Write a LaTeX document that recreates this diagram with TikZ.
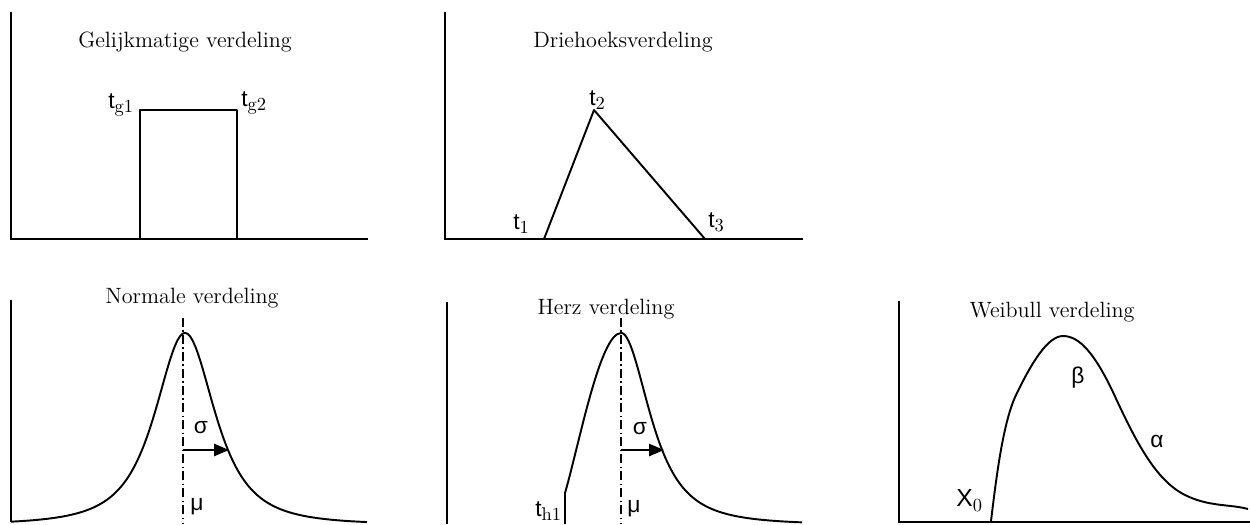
\documentclass[tikz,border=0pt]{standalone}
\usepackage{fontspec}
\newfontfamily\symfont{Liberation Sans}
\usetikzlibrary{arrows.meta}
\newcommand{\lowsub}[1]{\raisebox{-0.4ex}{\rmfamily\fontsize{10.5}{12}\selectfont #1}}

\begin{document}
\begin{tikzpicture}[
  x=0.02cm,y=-0.02cm,
  axis/.style={line width=1.3pt},
  curve/.style={line width=1.1pt, line join=round},
  centre/.style={line width=0.9pt, dash pattern=on 5pt off 2pt on 0.7pt off 2pt},
  title/.style={font=\fontsize{12.6}{14}\selectfont},
  lbl/.style={font=\symfont\fontsize{13}{15}\selectfont, inner sep=0pt},
  tlbl/.style={lbl, anchor=base west},
  arrow/.style={-{Triangle[length=8.5pt,width=7pt]}, line width=1pt}
]
\useasboundingbox (0,0) rectangle (1250,524);

% gelijkmatige verdeling
\draw[axis] (11,12) -- (11,239) -- (368,239);
\node[title] (ttlg) at (185,42) {Gelijkmatige verdeling};
\draw[curve] (140,239) -- (140,110) -- (237,110) -- (237,239);
\node[tlbl] (tg1) at (108,108) {t\lowsub{g1}};
\node[tlbl] (tg2) at (241,106) {t\lowsub{g2}};

% driehoeksverdeling
\draw[axis] (445,12) -- (445,239) -- (803,239);
\node[title] (ttld) at (623,42) {Driehoeksverdeling};
\draw[curve] (544,239) -- (594,110) -- (705,239);
\node[tlbl] (t1) at (513,229) {t\lowsub{1}};
\node[tlbl] (t2) at (589,105) {t\lowsub{2}};
\node[tlbl] (t3) at (708,227) {t\lowsub{3}};

% normale verdeling
\draw[axis] (11,300) -- (11,522);
\node[title] (ttln) at (192,298) {Normale verdeling};
\draw[curve] plot[domain=11:367, samples=140] (\x, {522-192*(pow(1+((\x-185)/46)^2,-1.5)-0.015)});
\draw[centre] (183,318) -- (183,524);
\coordinate (sn) at (183,450);
\coordinate (sne) at (229,450);
\draw[arrow] (sn) -- (sne);
\node[lbl] (sign) at (201,428) {σ};
\node[lbl] (mun) at (197,507) {μ};

% herz verdeling
\draw[axis] (447,302) -- (447,524);
\node[title] (ttlh) at (606,309) {Herz verdeling};
\draw[curve] (565,524) -- (565,493) .. controls (579,445) and (600,333) .. (621,333)
  -- plot[domain=621:802, samples=120] (\x, {522-192*(pow(1+((\x-621)/44)^2,-1.5)-0.015)});
\draw[centre] (621,318) -- (621,524);
\coordinate (sh) at (621,450);
\coordinate (she) at (664,450);
\draw[arrow] (sh) -- (she);
\node[lbl] (sigh) at (640,429) {σ};
\node[lbl] (muh) at (634,509) {μ};
\node[tlbl] (th1) at (535,516) {t\lowsub{h1}};

% weibull verdeling
\draw[axis] (899,301) -- (899,522) -- (1250,522);
\node[title] (ttlw) at (1052,312) {Weibull verdeling};
\draw[curve] (991,521) .. controls (996,480) and (1003,420) .. (1017,393)
  .. controls (1032,362) and (1048,336) .. (1063,336)
  .. controls (1080,336) and (1095,355) .. (1112,390)
  .. controls (1135,440) and (1155,480) .. (1185,495)
  .. controls (1209,507) and (1230,504) .. (1248,509);
\node[lbl] (beta) at (1078,378) {β};
\node[lbl] (alpha) at (1157,441) {α};
\node[tlbl] (x0) at (956,506) {\fontsize{14}{16}\selectfont X\lowsub{0}};
\end{tikzpicture}
\end{document}
